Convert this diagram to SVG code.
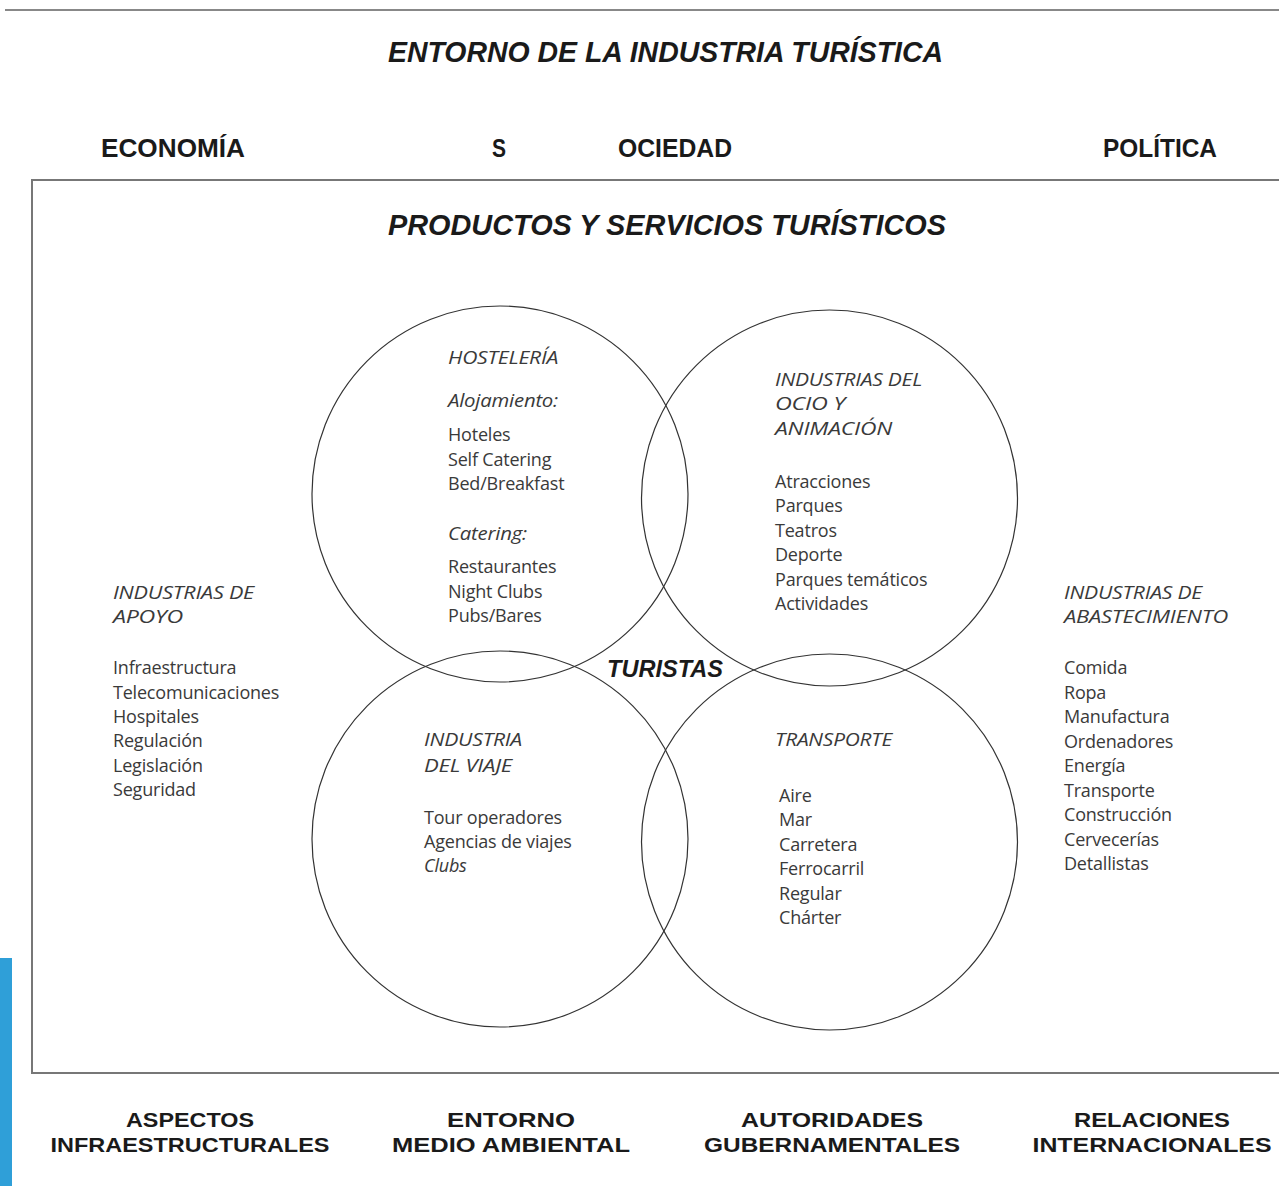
<svg xmlns="http://www.w3.org/2000/svg" width="1279" height="1186" viewBox="0 0 1279 1186">
<style>
.h{font-family:"Liberation Sans",Arial,sans-serif;font-weight:bold;fill:#1a1a1a}
.hi{font-style:italic}
.t{font-family:"Open Sans","Noto Sans",sans-serif;font-size:18px;fill:#3a3a3a;letter-spacing:-0.2px}
.it{font-style:italic}
.c{fill:none;stroke:#333;stroke-width:1.2}
.ft{text-anchor:middle;font-size:21px}
</style>
<rect width="1279" height="1186" fill="#fff"/>
<line x1="5" y1="10" x2="1279" y2="10" stroke="#888" stroke-width="2"/>
<rect x="0" y="958" width="12" height="228" fill="#2f9fd8"/>
<text class="h hi" x="388" y="62" font-size="29" textLength="555" lengthAdjust="spacingAndGlyphs">ENTORNO DE LA INDUSTRIA TURÍSTICA</text>
<g id="top-labels">
<text class="h" x="101" y="157" font-size="26" textLength="144" lengthAdjust="spacingAndGlyphs">ECONOMÍA</text>
<text class="h" x="492" y="157" font-size="26" textLength="14" lengthAdjust="spacingAndGlyphs">S</text>
<text class="h" x="618" y="157" font-size="26" textLength="114" lengthAdjust="spacingAndGlyphs">OCIEDAD</text>
<text class="h" x="1103" y="157" font-size="26" textLength="114" lengthAdjust="spacingAndGlyphs">POLÍTICA</text>
</g>
<rect x="32" y="180" width="1260" height="893" fill="none" stroke="#777" stroke-width="2"/>
<text class="h hi" x="388" y="235" font-size="29" textLength="558" lengthAdjust="spacingAndGlyphs">PRODUCTOS Y SERVICIOS TURÍSTICOS</text>
<g id="circles">
<circle id="c-hosteleria" class="c" cx="500" cy="494" r="188"/>
<circle id="c-ocio" class="c" cx="829.5" cy="498" r="188"/>
<circle id="c-viaje" class="c" cx="500" cy="839" r="188"/>
<circle id="c-transporte" class="c" cx="829.5" cy="842" r="188"/>
</g>
<g id="hosteleria">
<text class="t it" x="448" y="364" textLength="110" lengthAdjust="spacingAndGlyphs">HOSTELERÍA</text>
<text class="t it" x="448" y="407" textLength="110" lengthAdjust="spacingAndGlyphs">Alojamiento:</text>
<text class="t" x="448" y="441">Hoteles</text>
<text class="t" x="448" y="466">Self Catering</text>
<text class="t" x="448" y="490">Bed/Breakfast</text>
<text class="t it" x="448" y="540" textLength="79" lengthAdjust="spacingAndGlyphs">Catering:</text>
<text class="t" x="448" y="573">Restaurantes</text>
<text class="t" x="448" y="598">Night Clubs</text>
<text class="t" x="448" y="622">Pubs/Bares</text>
</g>
<g id="ocio">
<text class="t it" x="775" y="386" textLength="147" lengthAdjust="spacingAndGlyphs">INDUSTRIAS DEL</text>
<text class="t it" x="775" y="410" textLength="70" lengthAdjust="spacingAndGlyphs">OCIO Y</text>
<text class="t it" x="775" y="435" textLength="117" lengthAdjust="spacingAndGlyphs">ANIMACIÓN</text>
<text class="t" x="775" y="488">Atracciones</text>
<text class="t" x="775" y="512">Parques</text>
<text class="t" x="775" y="537">Teatros</text>
<text class="t" x="775" y="561">Deporte</text>
<text class="t" x="775" y="586">Parques temáticos</text>
<text class="t" x="775" y="610">Actividades</text>
</g>
<g id="turistas">
<text class="h hi" x="607" y="677" font-size="24" textLength="116" lengthAdjust="spacingAndGlyphs">TURISTAS</text>
</g>
<g id="apoyo">
<text class="t it" x="113" y="599" textLength="141" lengthAdjust="spacingAndGlyphs">INDUSTRIAS DE</text>
<text class="t it" x="113" y="623" textLength="70" lengthAdjust="spacingAndGlyphs">APOYO</text>
<text class="t" x="113" y="674">Infraestructura</text>
<text class="t" x="113" y="699">Telecomunicaciones</text>
<text class="t" x="113" y="723">Hospitales</text>
<text class="t" x="113" y="747">Regulación</text>
<text class="t" x="113" y="772">Legislación</text>
<text class="t" x="113" y="796">Seguridad</text>
</g>
<g id="abastecimiento">
<text class="t it" x="1064" y="599" textLength="138" lengthAdjust="spacingAndGlyphs">INDUSTRIAS DE</text>
<text class="t it" x="1064" y="623" textLength="164" lengthAdjust="spacingAndGlyphs">ABASTECIMIENTO</text>
<text class="t" x="1064" y="674">Comida</text>
<text class="t" x="1064" y="699">Ropa</text>
<text class="t" x="1064" y="723">Manufactura</text>
<text class="t" x="1064" y="748">Ordenadores</text>
<text class="t" x="1064" y="772">Energía</text>
<text class="t" x="1064" y="797">Transporte</text>
<text class="t" x="1064" y="821">Construcción</text>
<text class="t" x="1064" y="846">Cervecerías</text>
<text class="t" x="1064" y="870">Detallistas</text>
</g>
<g id="viaje">
<text class="t it" x="424" y="746" textLength="98" lengthAdjust="spacingAndGlyphs">INDUSTRIA</text>
<text class="t it" x="424" y="772" textLength="88" lengthAdjust="spacingAndGlyphs">DEL VIAJE</text>
<text class="t" x="424" y="824">Tour operadores</text>
<text class="t" x="424" y="848">Agencias de viajes</text>
<text class="t it" x="424" y="872">Clubs</text>
</g>
<g id="transporte">
<text class="t it" x="775" y="746" textLength="117" lengthAdjust="spacingAndGlyphs">TRANSPORTE</text>
<text class="t" x="779" y="802">Aire</text>
<text class="t" x="779" y="826">Mar</text>
<text class="t" x="779" y="851">Carretera</text>
<text class="t" x="779" y="875">Ferrocarril</text>
<text class="t" x="779" y="900">Regular</text>
<text class="t" x="779" y="924">Chárter</text>
</g>
<g id="bottom-labels">
<text class="h ft" x="190" y="1127" textLength="128" lengthAdjust="spacingAndGlyphs">ASPECTOS</text>
<text class="h ft" x="190" y="1152" textLength="279" lengthAdjust="spacingAndGlyphs">INFRAESTRUCTURALES</text>
<text class="h ft" x="511" y="1127" textLength="128" lengthAdjust="spacingAndGlyphs">ENTORNO</text>
<text class="h ft" x="511" y="1152" textLength="238" lengthAdjust="spacingAndGlyphs">MEDIO AMBIENTAL</text>
<text class="h ft" x="832" y="1127" textLength="182" lengthAdjust="spacingAndGlyphs">AUTORIDADES</text>
<text class="h ft" x="832" y="1152" textLength="256" lengthAdjust="spacingAndGlyphs">GUBERNAMENTALES</text>
<text class="h ft" x="1152" y="1127" textLength="156" lengthAdjust="spacingAndGlyphs">RELACIONES</text>
<text class="h ft" x="1152" y="1152" textLength="239" lengthAdjust="spacingAndGlyphs">INTERNACIONALES</text>
</g>
</svg>
